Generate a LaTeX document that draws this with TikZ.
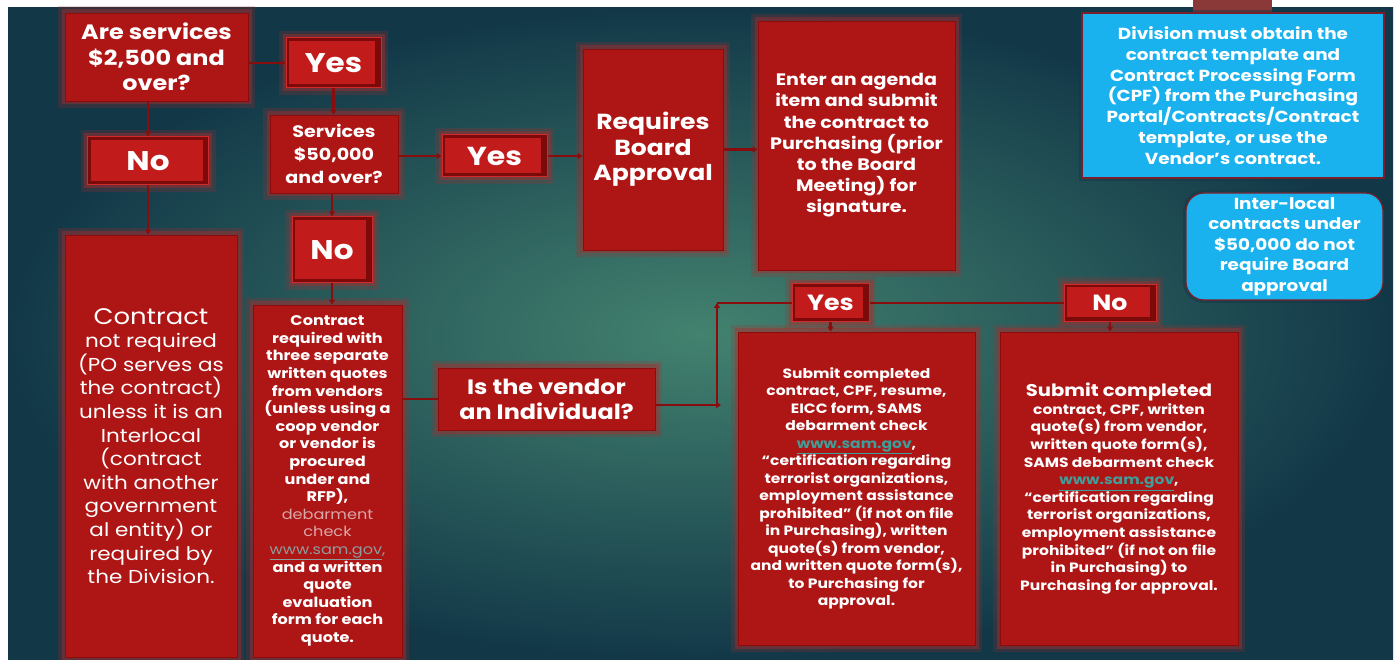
\documentclass[tikz,border=0pt]{standalone}
\usepackage{fontspec}
\setmainfont{Poppins}[FakeStretch=1.15]
\usetikzlibrary{arrows.meta}
\definecolor{boxred}{HTML}{AE1515}
\definecolor{btnface}{HTML}{C21B1B}
\definecolor{btnrim}{HTML}{7C0A0A}
\definecolor{btnline}{HTML}{D02A2A}
\definecolor{linered}{HTML}{8A0D0D}
\definecolor{glowc}{HTML}{B02A2A}
\definecolor{bluefill}{HTML}{1AB2EE}
\definecolor{blueedge}{HTML}{7A1F2A}
\definecolor{bgin}{HTML}{43826F}
\definecolor{bgout}{HTML}{123848}
\definecolor{debcol}{HTML}{D9A8A8}
\definecolor{urlgrey}{HTML}{8E9C9C}
\definecolor{urlteal}{HTML}{3E9E9A}
\definecolor{artifact}{HTML}{8A3838}
\newcommand\fsz[2]{\fontsize{#1}{#2}\selectfont}
\tikzset{
  glow/.style={preaction={draw=glowc, line width=14pt, opacity=0.22},
               preaction={draw=glowc, line width=7pt, opacity=0.4}},
  redbox/.style={glow, fill=boxred, draw=linered, line width=0.8pt, inner sep=0pt,
                 align=center, text=white},
  btn/.style={glow, fill=btnrim, draw=btnline, line width=1pt, inner sep=0pt,
              text=white, font=\bfseries,
              path picture={\fill[btnface] ([shift={(3pt,-3pt)}]path picture bounding box.north west)
                 rectangle ([shift={(-6pt,4pt)}]path picture bounding box.south east);}},
  bluebox/.style={fill=bluefill, draw=blueedge, line width=1.2pt, inner sep=0pt,
                  align=center, text=white, font=\bfseries,
                  preaction={draw=bgout, line width=6pt, opacity=0.5}},
  conn/.style={draw=linered, line width=2.2pt},
  arr/.style={conn, -{Triangle[length=5pt,width=6pt]}},
}
\begin{document}
\begin{tikzpicture}[x=1pt,y=-1pt]
\useasboundingbox (0,0) rectangle (1398,660);
\fill[white] (0,0) rectangle (1398,660);
\shade[inner color=bgin, outer color=bgout] (8,8) rectangle (1393,660);
\fill[artifact] (1193,0) rectangle (1272,12);

% top left decision
\node[redbox, font=\bfseries\fsz{20.8}{25.5}, minimum width=183, minimum height=88] (q1) at (156.5,57)
  {Are services\\\$2,500 and\\over?};
\node[btn, font=\bfseries\fsz{27}{30}, minimum width=95, minimum height=50] (yes1) at (333.5,63) {Yes};
\node[redbox, font=\bfseries\fsz{16.6}{23}, minimum width=128, minimum height=78] (q2) at (334,154)
  {Services\\\$50,000\\and over?};
\node[btn, font=\bfseries\fsz{27}{30}, minimum width=121, minimum height=48] (no1) at (148,161) {No};
\node[redbox, font=\fsz{18.7}{23.6}, minimum width=172, minimum height=422] (notreq) at (151,446)
  {{\fsz{22.5}{23.6}Contract}\\not required\\(PO serves as\\the contract)\\unless it is an\\Interlocal\\(contract\\with another\\government\\al entity) or\\required by\\the Division.};
\node[btn, font=\bfseries\fsz{27}{30}, minimum width=80, minimum height=66] (no2) at (332,250) {No};
\node[redbox, font=\bfseries\fsz{14}{17.6}, minimum width=149, minimum height=352] (req3) at (327.5,481)
  {Contract\\required with\\three separate\\written quotes\\from vendors\\(unless using a\\coop vendor\\or vendor is\\procured\\under and\\RFP),\\{\mdseries\color{debcol}debarment}\\{\mdseries\color{debcol}check}\\{\mdseries\color{urlgrey}\underline{www.sam.gov},}\\and a written\\quote\\evaluation\\form for each\\quote.};
\node[redbox, font=\bfseries\fsz{20.8}{25}, minimum width=217, minimum height=62] (vendor) at (546.5,399)
  {Is the vendor\\an Individual?};

% board path
\node[btn, font=\bfseries\fsz{26}{30}, minimum width=105, minimum height=42] (yes3) at (494.5,156) {Yes};
\node[redbox, font=\bfseries\fsz{21.8}{25.5}, minimum width=140, minimum height=201] (board) at (653,149.5)
  {Requires\\Board\\Approval};
\node[redbox, font=\bfseries\fsz{16.6}{21.2}, minimum width=197, minimum height=249] (enter) at (856.5,145.5)
  {Enter an agenda\\item and submit\\the contract to\\Purchasing (prior\\to the Board\\Meeting) for\\signature.};

% blue notes
\node[bluebox, font=\bfseries\fsz{16}{20.8}, minimum width=302, minimum height=165] (blue1) at (1233,95.5)
  {Division must obtain the\\contract template and\\Contract Processing Form\\(CPF) from the Purchasing\\Portal/Contracts/Contract\\template,  or use the\\Vendor's contract.};
\node[bluebox, rounded corners=18pt, font=\bfseries\fsz{16}{20.5}, minimum width=197, minimum height=107] (blue2) at (1284.5,246.5)
  {Inter-local\\contracts under\\\$50,000 do not\\require Board\\approval};

% vendor answers
\node[btn, font=\bfseries\fsz{22}{24}, minimum width=77, minimum height=38] (yes2) at (830.5,303) {Yes};
\node[btn, font=\bfseries\fsz{22}{24}, minimum width=92, minimum height=37] (no3) at (1110,303) {No};
\node[redbox, font=\bfseries\fsz{13.5}{17.5}, minimum width=237, minimum height=313] (ydet) at (856.5,488.5)
  {Submit completed\\contract, CPF, resume,\\EICC form, SAMS\\debarment check\\{\color{urlteal}\underline{www.sam.gov}},\\“certification regarding\\terrorist  organizations,\\employment assistance\\prohibited” (if not on file\\in Purchasing), written\\quote(s) from vendor,\\and written  quote form(s),\\to Purchasing for\\approval.};
\node[redbox, font=\bfseries\fsz{13.5}{17.6}, minimum width=238, minimum height=313] (ndet) at (1119,488.5)
  {{\fsz{17}{19}Submit completed}\\contract, CPF,  written\\quote(s) from vendor,\\written  quote form(s),\\SAMS debarment check\\{\color{urlteal}\underline{www.sam.gov}},\\“certification regarding\\terrorist  organizations,\\employment assistance\\prohibited” (if not on file\\in Purchasing) to\\Purchasing for approval.};

% connectors
\draw[arr] (q1.east |- yes1) -- (yes1.west);
\draw[arr] (yes1.south) -- (yes1.south |- q2.north);
\draw[arr] (q1.south -| no1) -- (no1.north);
\draw[arr] (no1.south) -- (no1.south |- notreq.north);
\draw[arr] (q2.south -| no2) -- (no2.north);
\draw[arr] (no2.south) -- (no2.south |- req3.north);
\draw[arr] (q2.east |- yes3) -- (yes3.west);
\draw[arr] (yes3.east) -- (yes3.east -| board.west);
\draw[arr] (board.east) -- (board.east -| enter.west);
\draw[conn] (req3.east |- vendor) -- (vendor.west);
\coordinate (c1) at (721,405);
\coordinate (c1b) at (717,407);
\coordinate (c2) at (717,303);
\draw[arr] (vendor.east |- c1) -- (c1);
\draw[arr] (c1b) -- (c2);
\draw[conn] (c2) -- (yes2.west);
\draw[conn] (yes2.east) -- (no3.west);
\draw[arr] (yes2.south) -- (yes2.south |- ydet.north);
\draw[arr] (no3.south) -- (no3.south |- ndet.north);
\end{tikzpicture}
\end{document}
